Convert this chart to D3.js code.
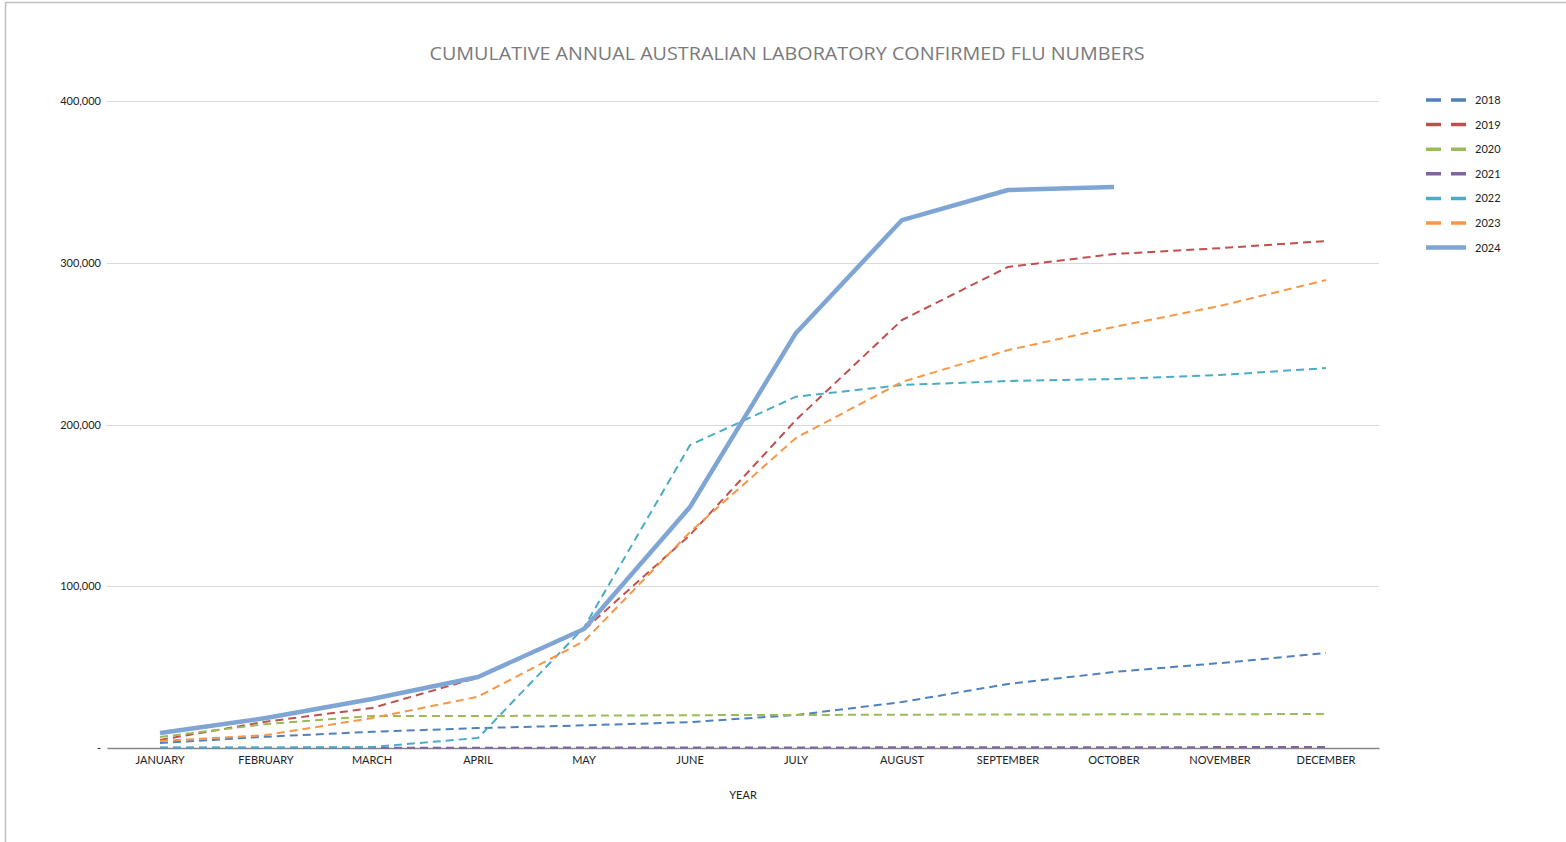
<!DOCTYPE html>
<html><head><meta charset="utf-8">
<script src="https://cdn.jsdelivr.net/npm/d3@7"></script>
<style>
html,body{margin:0;padding:0;background:#fff;}
svg{display:block;font-family:Lato, "Liberation Sans", sans-serif;}
</style></head>
<body><svg id="chart" width="1566" height="842"></svg>
<script>
const months = ["JANUARY","FEBRUARY","MARCH","APRIL","MAY","JUNE","JULY","AUGUST","SEPTEMBER","OCTOBER","NOVEMBER","DECEMBER"];
const years = ["2018","2019","2020","2021","2022","2023","2024"];
const v2018 = [3100, 7000, 10000, 12300, 14000, 16000, 20400, 28400, 39600, 47000, 52500, 58700];
const v2019 = [5000, 16300, 24700, 43500, 73000, 131700, 202800, 264600, 297400, 305400, 309000, 313400];
const v2020 = [6800, 14800, 19800, 19800, 20000, 20300, 20400, 20600, 20700, 20800, 20900, 21000];
const v2021 = [100, 150, 200, 200, 250, 300, 350, 400, 450, 500, 550, 650];
const v2022 = [300, 300, 600, 6200, 74500, 187300, 217200, 224400, 226900, 228100, 230600, 234900];
const v2023 = [4300, 8000, 18500, 31700, 66000, 133500, 191700, 226300, 246000, 260300, 273300, 289300];
const v2024 = [9300, 18500, 30300, 43900, 73600, 149000, 256600, 326400, 345000, 346800];
const yTicks = [0, 100000, 200000, 300000, 400000];
const yTickLabels = ["-", "100,000", "200,000", "300,000", "400,000"];
const colors = ["#4F81BD","#C0504D","#9BBB59","#8064A2","#4BACC6","#F79646","#7FA5D5"];
const title = "CUMULATIVE ANNUAL AUSTRALIAN LABORATORY CONFIRMED FLU NUMBERS";
const xTitle = "YEAR";

(function(){
const seriesValues = [v2018, v2019, v2020, v2021, v2022, v2023, v2024];
const series = years.map((yr, i) => ({name: yr, values: seriesValues[i], color: colors[i], solid: yr === "2024"}));

const svg = d3.select("#chart");
svg.append("rect").attr("x", 5.5).attr("y", 2.5).attr("width", 1600).attr("height", 900)
  .attr("fill", "none").attr("stroke", "#bfbfbf").attr("stroke-width", 1.5);

const pl = 107, pr = 1379, pt = 101, pb = 748;
const x = d3.scaleBand().domain(months).range([pl, pr]);
const y = d3.scaleLinear().domain([0, 400000]).range([pb, pt]);

svg.append("g").selectAll("line").data(yTicks.filter(d => d > 0)).join("line")
  .attr("x1", pl).attr("x2", pr)
  .attr("y1", d => Math.round(y(d)) + 0.5).attr("y2", d => Math.round(y(d)) + 0.5)
  .attr("stroke", "#d9d9d9").attr("stroke-width", 1);

const yAxis = d3.axisLeft(y).tickValues(yTicks).tickSize(0).tickPadding(6)
  .tickFormat((d, i) => yTickLabels[i]);
const gy = svg.append("g").attr("transform", `translate(${pl},0)`).call(yAxis);
gy.select(".domain").remove();
gy.selectAll("text").attr("font-size", 11).attr("fill", "#222").attr("font-family", "Lato, sans-serif");

const xAxis = d3.axisBottom(x).tickSize(0).tickPadding(8);
const gx = svg.append("g").attr("transform", `translate(0,${pb})`).call(xAxis);
gx.select(".domain").attr("stroke", "#868686").attr("stroke-width", 1.5);
gx.selectAll("text").attr("font-size", 11).attr("fill", "#222").attr("font-family", "Lato, sans-serif");

const line = d3.line().x((d, i) => x(months[i]) + x.bandwidth() / 2).y(d => y(d));
svg.append("g").selectAll("path").data(series).join("path")
  .attr("d", d => line(d.values))
  .attr("fill", "none")
  .attr("stroke", d => d.color)
  .attr("stroke-width", d => d.solid ? 4.5 : 2)
  .attr("stroke-dasharray", d => d.solid ? null : "8,5")
  .attr("stroke-linejoin", "round");

svg.append("text").attr("x", 787).attr("y", 60).attr("text-anchor", "middle")
  .attr("font-size", 19).attr("fill", "#7a7a7a").attr("font-family", "'Open Sans', sans-serif")
  .attr("textLength", 715).attr("lengthAdjust", "spacingAndGlyphs").text(title);

svg.append("text").attr("x", 743).attr("y", 799).attr("text-anchor", "middle")
  .attr("font-size", 11).attr("fill", "#222").text(xTitle);

const lg = svg.append("g").selectAll("g").data(series).join("g")
  .attr("transform", (d, i) => `translate(1426,${100 + i * 24.6})`);
lg.append("line").attr("x1", 0).attr("x2", 40).attr("y1", 0).attr("y2", 0)
  .attr("stroke", d => d.color).attr("stroke-width", d => d.solid ? 4.5 : 3.5)
  .attr("stroke-dasharray", d => d.solid ? null : "15,10");
lg.append("text").attr("x", 49).attr("y", 4).attr("font-size", 11).attr("fill", "#222")
  .text(d => d.name);
})();
</script></body></html>
